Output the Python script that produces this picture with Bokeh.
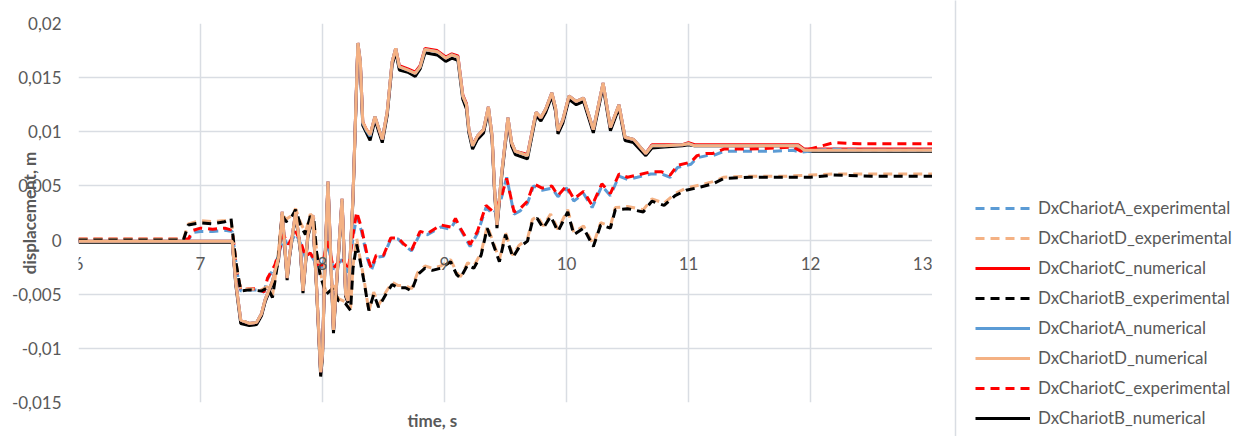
from bokeh.plotting import figure
from bokeh.layouts import row
from bokeh.models import (FixedTicker, CustomJSTickFormatter, Legend, LegendItem,
                          Title, Range1d)
from bokeh.embed import file_html
from bokeh.resources import INLINE

# ---------------- data ----------------
x_ticks = [6, 7, 8, 9, 10, 11, 12, 13]
y_ticks = [-0.015, -0.01, -0.005, 0, 0.005, 0.01, 0.015, 0.02]

num_t = [6.0, 7.0, 7.26, 7.29, 7.33, 7.4, 7.46, 7.5, 7.53, 7.59, 7.64, 7.67, 7.71, 7.73,
         7.78, 7.82, 7.84, 7.88, 7.92, 7.95, 7.985, 8.0, 8.02, 8.045, 8.09, 8.16, 8.19, 8.21,
         8.25, 8.29, 8.31, 8.33, 8.36, 8.39, 8.43, 8.49, 8.53, 8.57, 8.6, 8.63, 8.7, 8.76,
         8.8, 8.84, 8.94, 9.01, 9.06, 9.11, 9.15, 9.18, 9.2, 9.23, 9.27, 9.32, 9.36, 9.39,
         9.41, 9.43, 9.47, 9.52, 9.55, 9.58, 9.68, 9.75, 9.79, 9.83, 9.88, 9.91, 9.93, 9.97,
         10.02, 10.08, 10.14, 10.22, 10.3, 10.36, 10.43, 10.48, 10.55, 10.65, 10.7, 10.8,
         10.95, 11.0, 11.05, 11.1, 11.5, 11.9, 11.95, 12.5, 13.0]
num_D = [-0.0001, -0.0001, -0.0001, -0.004, -0.0074, -0.0077, -0.0076, -0.0068, -0.0055,
         -0.0038, -0.0016, 0.0026, -0.0035, -0.0014, 0.0026, -0.001, -0.0047, 0.0005, 0.0023,
         -0.004, -0.0122, -0.0105, -0.002, 0.0054, -0.0083, 0.0038, -0.005, -0.0056, 0.004,
         0.0182, 0.0165, 0.0109, 0.0102, 0.0097, 0.0114, 0.0093, 0.0118, 0.0164, 0.0177,
         0.016, 0.0157, 0.0154, 0.016, 0.0176, 0.0174, 0.0168, 0.0171, 0.0169, 0.0133, 0.0125,
         0.0102, 0.0087, 0.0096, 0.0102, 0.0123, 0.0096, 0.0048, 0.0014, 0.0063, 0.0113,
         0.009, 0.0082, 0.0078, 0.0118, 0.0113, 0.0121, 0.0136, 0.0122, 0.0101, 0.0111,
         0.0133, 0.0128, 0.0131, 0.0102, 0.0145, 0.0104, 0.0125, 0.0095, 0.0093, 0.008,
         0.0087, 0.0087, 0.0088, 0.0089, 0.0087, 0.0087, 0.0087, 0.0087, 0.0083, 0.0083, 0.0083]
num_C = [-0.0001, -0.0001, -0.0001, -0.004, -0.0074, -0.0077, -0.0076, -0.0068, -0.0055,
         -0.0038, -0.0016, 0.0026, -0.0035, -0.0014, 0.0026, -0.001, -0.0047, 0.0005, 0.0023,
         -0.004, -0.0122, -0.0105, -0.002, 0.0054, -0.0083, 0.0038, -0.005, -0.0056, 0.004,
         0.0182, 0.0165, 0.0109, 0.0102, 0.0097, 0.0114, 0.0093, 0.0118, 0.0164, 0.0177,
         0.0161, 0.0158, 0.0155, 0.0161, 0.0177, 0.0175, 0.0169, 0.0172, 0.017, 0.0134, 0.0126,
         0.0102, 0.0088, 0.0096, 0.0102, 0.0123, 0.0096, 0.0048, 0.0014, 0.0063, 0.0113,
         0.009, 0.0082, 0.0079, 0.0118, 0.0113, 0.0121, 0.0136, 0.0122, 0.0101, 0.0111,
         0.0133, 0.0128, 0.0131, 0.0102, 0.0145, 0.0104, 0.0125, 0.0095, 0.0093, 0.008,
         0.0088, 0.0088, 0.0088, 0.009, 0.0088, 0.0088, 0.0088, 0.0088, 0.0084, 0.0084, 0.0084]
num_A = [-0.0001, -0.0001, -0.0001, -0.004, -0.0074, -0.0077, -0.0076, -0.0068, -0.0055,
         -0.0038, -0.0016, 0.0026, -0.0035, -0.0014, 0.0026, -0.001, -0.0047, 0.0005, 0.0023,
         -0.004, -0.0122, -0.0105, -0.002, 0.0054, -0.0083, 0.0038, -0.005, -0.0056, 0.004,
         0.0182, 0.0165, 0.0108, 0.0101, 0.0096, 0.0114, 0.0093, 0.0118, 0.0164, 0.0177,
         0.016, 0.0157, 0.0154, 0.016, 0.0176, 0.0174, 0.0168, 0.0171, 0.0169, 0.0133, 0.0125,
         0.0102, 0.0087, 0.0096, 0.0102, 0.0123, 0.0096, 0.0048, 0.0014, 0.0063, 0.0113,
         0.009, 0.0082, 0.0078, 0.0118, 0.0113, 0.0121, 0.0136, 0.0122, 0.0101, 0.0111,
         0.0133, 0.0128, 0.0131, 0.0102, 0.0145, 0.0104, 0.0125, 0.0095, 0.0093, 0.008,
         0.0087, 0.0087, 0.0088, 0.0089, 0.0087, 0.0087, 0.0087, 0.0087, 0.0083, 0.0083, 0.0083]
num_B = [-0.0002, -0.0002, -0.0002, -0.0042, -0.0077, -0.0079, -0.0078, -0.0070, -0.0057,
         -0.0040, -0.0018, 0.0024, -0.0037, -0.0016, 0.0024, -0.0012, -0.0049, 0.0003, 0.0021,
         -0.0042, -0.0126, -0.0108, -0.0022, 0.0052, -0.0086, 0.0036, -0.0052, -0.0058, 0.0038,
         0.0180, 0.0162, 0.0106, 0.0099, 0.0092, 0.0111, 0.0090, 0.0115, 0.0161, 0.0174,
         0.0157, 0.0155, 0.0151, 0.0158, 0.0173, 0.0171, 0.0165, 0.0168, 0.0166, 0.0130, 0.0121,
         0.0099, 0.0084, 0.0093, 0.0099, 0.0120, 0.0093, 0.0045, 0.0011, 0.0060, 0.0110,
         0.0087, 0.0079, 0.0075, 0.0115, 0.0110, 0.0118, 0.0133, 0.0119, 0.0098, 0.0108,
         0.0130, 0.0125, 0.0128, 0.0099, 0.0142, 0.0101, 0.0122, 0.0092, 0.0090, 0.0078,
         0.0085, 0.0086, 0.0087, 0.0088, 0.0087, 0.0087, 0.0087, 0.0087, 0.0082, 0.0082, 0.0082]

exp_ac_t = [6.0, 6.9, 6.94, 7.0, 7.1, 7.2, 7.26, 7.3, 7.33, 7.4, 7.48, 7.52, 7.55, 7.61,
            7.66, 7.68, 7.72, 7.78, 7.82, 7.86, 7.9, 7.96, 8.0, 8.04, 8.09, 8.16, 8.21, 8.25,
            8.28, 8.32, 8.37, 8.4, 8.44, 8.5, 8.56, 8.62, 8.67, 8.73, 8.8, 8.86, 8.97, 9.05,
            9.09, 9.13, 9.21, 9.27, 9.34, 9.4, 9.46, 9.51, 9.57, 9.62, 9.68, 9.73, 9.8, 9.88,
            9.93, 10.0, 10.06, 10.14, 10.21, 10.29, 10.36, 10.43, 10.5, 10.58, 10.69, 10.78,
            10.85, 10.91, 11.02, 11.07, 11.15, 11.2, 11.29, 11.5, 11.7, 11.86, 11.92, 12.06,
            12.19, 12.4, 12.6, 12.8, 13.0]
exp_C = [0.0001, 0.0001, 0.0009, 0.0011, 0.001, 0.0011, 0.0009, -0.003, -0.0046, -0.0045,
         -0.0045, -0.0048, -0.0035, -0.0023, -0.0004, 0.0005, -0.0004, 0.0008, -0.0001,
         -0.0015, -0.0012, -0.0023, -0.0023, -0.0001, -0.0026, -0.0016, -0.0028, 0.0005,
         0.0026, 0.0011, -0.0016, -0.0026, -0.0014, -0.0014, 0.0002, 0.0002, -0.0004, -0.0009,
         0.0008, 0.0006, 0.0014, 0.0012, 0.002, 0.0011, -0.0004, 0.0008, 0.0032, 0.0026,
         0.0038, 0.0057, 0.0026, 0.0029, 0.0036, 0.0052, 0.0048, 0.005, 0.0041, 0.005, 0.0038,
         0.0045, 0.0032, 0.0052, 0.0043, 0.0061, 0.0058, 0.006, 0.0063, 0.0063, 0.006, 0.0069,
         0.0072, 0.0078, 0.008, 0.008, 0.0084, 0.0084, 0.0085, 0.0086, 0.0082, 0.0086, 0.009,
         0.0089, 0.0089, 0.0089, 0.0089]
exp_A = [0.0, 0.0, 0.0007, 0.0008, 0.0008, 0.0009, 0.0008, -0.003, -0.0047, -0.0046,
         -0.0046, -0.0048, -0.0036, -0.0024, -0.0006, 0.0003, -0.0006, 0.0006, -0.0003,
         -0.0016, -0.0013, -0.0024, -0.0025, -0.0003, -0.0027, -0.0018, -0.003, 0.0002,
         0.0022, 0.0008, -0.0018, -0.0028, -0.0016, -0.0015, 0.0001, 0.0001, -0.0005, -0.001,
         0.0006, 0.0005, 0.0012, 0.001, 0.0018, 0.001, -0.0006, 0.0006, 0.003, 0.0024,
         0.0036, 0.0058, 0.0024, 0.0027, 0.0034, 0.005, 0.0046, 0.0048, 0.004, 0.0048, 0.0036,
         0.0043, 0.003, 0.005, 0.0041, 0.0059, 0.0056, 0.0058, 0.0061, 0.0061, 0.0058, 0.0067,
         0.007, 0.0076, 0.0078, 0.0078, 0.0082, 0.0082, 0.0082, 0.0083, 0.0081, 0.0083, 0.0084,
         0.0083, 0.0083, 0.0083, 0.0083]

exp_bd_t = [6.0, 6.86, 6.9, 7.0, 7.1, 7.2, 7.25, 7.29, 7.33, 7.4, 7.5, 7.55, 7.59, 7.63,
            7.67, 7.7, 7.74, 7.78, 7.82, 7.86, 7.9, 7.93, 7.95, 7.98, 8.03, 8.09, 8.13, 8.19,
            8.23, 8.25, 8.28, 8.3, 8.34, 8.38, 8.42, 8.46, 8.52, 8.57, 8.62, 8.68, 8.73, 8.78,
            8.84, 8.9, 8.97, 9.05, 9.1, 9.13, 9.19, 9.24, 9.3, 9.35, 9.4, 9.45, 9.5, 9.56, 9.61,
            9.68, 9.72, 9.76, 9.81, 9.87, 9.93, 10.01, 10.06, 10.14, 10.22, 10.28, 10.36, 10.4,
            10.5, 10.63, 10.7, 10.8, 10.89, 10.98, 11.1, 11.2, 11.29, 11.5, 11.8, 12.0, 12.19,
            12.5, 13.0]
exp_B = [0.0, 0.0, 0.0014, 0.0016, 0.0015, 0.0017, 0.002, -0.002, -0.0047, -0.0046,
         -0.0047, -0.0044, -0.0053, -0.0023, 0.0023, 0.0017, 0.002, 0.0028, 0.0014, 0.0005,
         0.0022, 0.0018, -0.001, -0.0032, -0.005, -0.0044, -0.0056, -0.0059, -0.0065, -0.0026,
         -0.0004, -0.0014, -0.0038, -0.0065, -0.005, -0.0062, -0.005, -0.0041, -0.0044,
         -0.0044, -0.0047, -0.0032, -0.0026, -0.0028, -0.0026, -0.002, -0.0032, -0.0035,
         -0.0023, -0.0026, -0.0014, 0.0011, -0.0004, -0.002, 0.0005, -0.0016, -0.0007,
         -0.0001, 0.0017, 0.002, 0.0011, 0.0022, 0.0008, 0.0026, 0.0005, 0.0011, -0.0006,
         0.0014, 0.0011, 0.0028, 0.0029, 0.0026, 0.0036, 0.0032, 0.0041, 0.0046, 0.0049,
         0.0052, 0.0057, 0.0058, 0.0058, 0.0058, 0.006, 0.0059, 0.0059]
exp_D = [0.0001, 0.0001, 0.0015, 0.0018, 0.0017, 0.0018, 0.0019, -0.002, -0.0046, -0.0045,
         -0.0046, -0.0043, -0.0051, -0.0021, 0.0025, 0.0019, 0.0022, 0.0029, 0.0016, 0.0007,
         0.0024, 0.002, -0.0008, -0.003, -0.0048, -0.0042, -0.0054, -0.0057, -0.0063, -0.0024,
         0.0002, -0.0012, -0.0036, -0.0066, -0.0048, -0.006, -0.0048, -0.0039, -0.0042,
         -0.0042, -0.0045, -0.003, -0.0024, -0.0026, -0.0024, -0.0018, -0.003, -0.0034,
         -0.0021, -0.0024, -0.0012, 0.0013, -0.0002, -0.0018, 0.0007, -0.0014, -0.0005,
         0.0001, 0.0019, 0.0022, 0.0013, 0.0024, 0.001, 0.0028, 0.0007, 0.0013, -0.0004,
         0.0016, 0.0013, 0.003, 0.0031, 0.0028, 0.0038, 0.0034, 0.0043, 0.0048, 0.0051,
         0.0054, 0.0058, 0.0059, 0.0059, 0.006, 0.0061, 0.0061, 0.0061]

series_names = ["DxChariotA_experimental", "DxChariotD_experimental", "DxChariotC_numerical",
                "DxChariotB_experimental", "DxChariotA_numerical", "DxChariotD_numerical",
                "DxChariotC_experimental", "DxChariotB_numerical"]

BLUE = "#5B9BD5"
TAN = "#F4B183"
RED = "#FF0000"
BLACK = "#000000"
GREY = "#595959"
FONT = "Lato"
LW = 3
DASH = "9 6"

# ---------------- main chart ----------------
p = figure(width=932, height=436, output_backend="svg", toolbar_location=None,
           x_range=Range1d(6, 13), y_range=Range1d(-0.015, 0.02),
           min_border_left=78, min_border_right=0, min_border_top=23, min_border_bottom=30)
p.outline_line_color = None
p.background_fill_color = "white"
p.border_fill_color = "white"

p.xgrid.ticker = FixedTicker(ticks=x_ticks)
p.ygrid.ticker = FixedTicker(ticks=y_ticks)
p.xgrid.grid_line_color = "#D9DDE3"
p.ygrid.grid_line_color = "#D9DDE3"
p.xgrid.grid_line_width = 1.5
p.ygrid.grid_line_width = 1.5

xa = p.xaxis[0]
xa.fixed_location = 0
xa.ticker = FixedTicker(ticks=x_ticks)
xa.axis_line_color = None
xa.major_tick_line_color = None
xa.minor_tick_line_color = None
xa.major_tick_in = 0
xa.major_tick_out = 0
xa.major_label_standoff = 17
xa.major_label_text_font = FONT
xa.major_label_text_font_size = "17px"
xa.major_label_text_color = GREY

ya = p.yaxis[0]
ya.ticker = FixedTicker(ticks=y_ticks)
ya.formatter = CustomJSTickFormatter(code="return String(tick).replace('.', ',');")
ya.axis_line_color = None
ya.major_tick_line_color = None
ya.minor_tick_line_color = None
ya.major_tick_in = 0
ya.major_tick_out = 0
ya.major_label_standoff = 17
ya.major_label_text_font = FONT
ya.major_label_text_font_size = "17px"
ya.major_label_text_color = GREY
ya.axis_label = "displacement, m"
ya.axis_label_text_font = FONT
ya.axis_label_text_font_size = "17px"
ya.axis_label_text_font_style = "bold"
ya.axis_label_text_color = GREY
ya.axis_label_standoff = -31

p.add_layout(Title(text="time, s", align="left", offset=329, standoff=11, text_font=FONT,
                   text_font_size="17px", text_font_style="bold", text_color=GREY), "below")

p.line(num_t, num_B, line_color=BLACK, line_width=LW)
p.line(num_t, num_C, line_color=RED, line_width=LW)
p.line(num_t, num_A, line_color=BLUE, line_width=LW)
p.line(exp_ac_t, exp_A, line_color=BLUE, line_width=LW, line_dash=DASH)
p.line(exp_ac_t, exp_C, line_color=RED, line_width=LW, line_dash=DASH)
p.line(exp_bd_t, exp_D, line_color=TAN, line_width=LW, line_dash=DASH)
p.line(exp_bd_t, exp_B, line_color=BLACK, line_width=LW, line_dash=DASH)
p.line(num_t, num_D, line_color=TAN, line_width=LW)

# ---------------- legend panel ----------------
# proxy renderers carry the same series; they lie outside this panel's range
legend_series = [(exp_ac_t, exp_A, BLUE, DASH), (exp_bd_t, exp_D, TAN, DASH),
                 (num_t, num_C, RED, "solid"), (exp_bd_t, exp_B, BLACK, DASH),
                 (num_t, num_A, BLUE, "solid"), (num_t, num_D, TAN, "solid"),
                 (exp_ac_t, exp_C, RED, DASH), (num_t, num_B, BLACK, "solid")]

pl = figure(width=309, height=436, output_backend="svg", toolbar_location=None,
            x_range=Range1d(0, 1), y_range=Range1d(0, 1),
            x_axis_location=None, y_axis_location="left",
            min_border_left=23, min_border_right=0, min_border_top=0, min_border_bottom=0)
pl.frame_align = False
pl.grid.visible = False
pl.outline_line_color = None
pl.border_fill_color = "white"
pl.background_fill_color = "white"
# the panel's left axis line acts as the vertical separator of the reference
sep = pl.yaxis[0]
sep.ticker = FixedTicker(ticks=[])
sep.major_tick_line_color = None
sep.minor_tick_line_color = None
sep.major_label_text_font_size = "0px"
sep.axis_line_color = "#D9DDE3"
sep.axis_line_width = 1.5

items = []
for name, (tt, vv, col, dash) in zip(series_names, legend_series):
    r = pl.line(tt, vv, line_color=col, line_width=LW, line_dash=dash)
    items.append(LegendItem(label=name, renderers=[r]))

legend = Legend(items=items, location=(20, 8), padding=0, margin=0, spacing=9,
                glyph_width=55, glyph_height=20, label_height=20, label_standoff=8,
                label_text_font=FONT, label_text_font_size="17px", label_text_color=GREY,
                border_line_color=None, background_fill_alpha=0)
pl.add_layout(legend, "center")

layout = row(p, pl)
open("out.html", "w").write(file_html(layout, INLINE))
